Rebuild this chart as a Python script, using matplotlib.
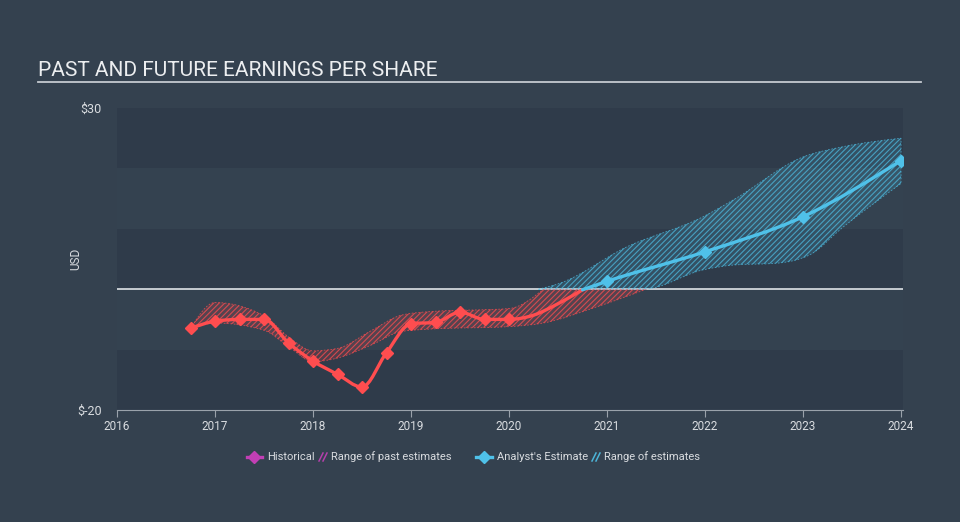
import numpy as np
import matplotlib
matplotlib.use("Agg")
import matplotlib.pyplot as plt
from matplotlib.path import Path
from matplotlib.patches import PathPatch
from matplotlib.lines import Line2D

# ---------------- data ----------------
hist_x = [2016.75, 2017.0, 2017.25, 2017.5, 2017.75, 2018.0, 2018.25, 2018.5,
          2018.75, 2019.0, 2019.25, 2019.5, 2019.75, 2020.0, 2020.25, 2020.5, 2020.75]
hist_eps = [-6.5, -5.3, -5.0, -5.0, -8.9, -11.9, -14.1, -16.2,
            -10.5, -5.7, -5.5, -3.8, -5.0, -5.0, -4.3, -2.4, -0.1]
hist_marked = 14  # markers on the first 14 points

past_up_x = [2016.75, 2017.0, 2017.5, 2017.75, 2018.0, 2018.25, 2018.6, 2018.9, 2019.2, 2020.0, 2020.35]
past_up_y = [-6.5, -2.2, -4.4, -7.9, -10.2, -9.8, -6.8, -4.3, -3.7, -3.2, 0.0]
past_lo_x = [2016.75, 2017.0, 2017.5, 2017.75, 2018.0, 2018.25, 2018.6, 2018.9, 2019.2, 2020.0, 2020.35, 2020.9, 2021.4]
past_lo_y = [-6.5, -5.6, -6.8, -9.5, -12.0, -11.4, -9.2, -7.0, -6.6, -6.2, -5.6, -2.9, 0.0]

est_x = [2020.75, 2021.0, 2022.0, 2023.0, 2024.0]
est_eps = [-0.1, 1.3, 6.2, 12.0, 21.3]

fut_up_x = [2020.3, 2020.52, 2021.2, 2021.98, 2022.29, 2023.0, 2023.41, 2024.0]
fut_up_y = [0.0, 1.0, 7.0, 12.0, 14.8, 21.9, 23.6, 25.0]
fut_lo_x = [2020.3, 2021.37, 2021.98, 2022.29, 2022.73, 2023.07, 2023.41, 2024.0]
fut_lo_y = [0.0, 0.0, 3.2, 4.0, 4.3, 5.7, 10.3, 17.5]

year_ticks = [2016, 2017, 2018, 2019, 2020, 2021, 2022, 2023, 2024]
y_ticks = [-20, 30]
y_ticklabels = ["$-20", "$30"]
band_edges = [-20, -10, 0, 10, 20, 30]

title = "PAST AND FUTURE EARNINGS PER SHARE"
legend_labels = ["Historical", "Range of past estimates", "Analyst's Estimate", "Range of estimates"]

# ---------------- style ----------------
BG = "#34414f"
BAND_DARK = "#2f3b4a"
BAND_LIGHT = "#344250"
RED = "#ff4d4f"
BLUE = "#4fc1e9"
PURPLE = "#c23fb5"
TXT = "#d9dce0"

plt.rcParams['font.family'] = ['Roboto', 'DejaVu Sans']
plt.rcParams['hatch.linewidth'] = 0.8


def monotone_verts(x, y):
    x = np.asarray(x, float)
    y = np.asarray(y, float)
    n = len(x)
    h = np.diff(x)
    s = np.diff(y) / h
    m = np.zeros(n)
    if n == 2:
        m[:] = s[0]
    else:
        for i in range(1, n - 1):
            if s[i - 1] * s[i] <= 0:
                m[i] = 0.0
            else:
                p = (s[i - 1] * h[i] + s[i] * h[i - 1]) / (h[i - 1] + h[i])
                m[i] = (np.sign(s[i - 1]) + np.sign(s[i])) * min(abs(s[i - 1]), abs(s[i]), 0.5 * abs(p))
        m[0] = (3 * s[0] - m[1]) / 2
        m[-1] = (3 * s[-1] - m[-2]) / 2
    verts = [(x[0], y[0])]
    for i in range(n - 1):
        d = h[i] / 3
        verts += [(x[i] + d, y[i] + m[i] * d), (x[i + 1] - d, y[i + 1] - m[i + 1] * d), (x[i + 1], y[i + 1])]
    return verts


def line_path(x, y):
    v = monotone_verts(x, y)
    codes = [Path.MOVETO] + [Path.CURVE4] * (len(v) - 1)
    return Path(v, codes)


def band_path(ux, uy, lx, ly):
    vu = monotone_verts(ux, uy)
    vl = monotone_verts(lx, ly)[::-1]
    verts = vu + vl + [vu[0]]
    codes = ([Path.MOVETO] + [Path.CURVE4] * (len(vu) - 1) +
             [Path.LINETO] + [Path.CURVE4] * (len(vl) - 1) + [Path.CLOSEPOLY])
    return Path(verts, codes)


fig = plt.figure(figsize=(9.6, 5.22), dpi=100, facecolor=BG)
ax = fig.add_axes([117 / 960, 1 - 410 / 522, (903 - 117) / 960, (410 - 108) / 522])
ax.set_facecolor('none')
ax.set_xlim(2016, 2024.02)
ax.set_ylim(-20, 30)

# alternating bands
for i in range(len(band_edges) - 1):
    c = BAND_DARK if i % 2 == 0 else BAND_LIGHT
    ax.axhspan(band_edges[i], band_edges[i + 1], color=c, lw=0, zorder=0)

ax.axhline(0, color="#dfe3e7", lw=1.2, zorder=1)

# ranges
past_patch = PathPatch(band_path(past_up_x, past_up_y, past_lo_x, past_lo_y),
                       facecolor=(1.0, 0.3, 0.3, 0.16), edgecolor=(1.0, 0.3, 0.31, 0.75),
                       hatch='//////', lw=0.6, ls=(0, (2, 2)), zorder=2)
ax.add_patch(past_patch)
fut_patch = PathPatch(band_path(fut_up_x, fut_up_y, fut_lo_x, fut_lo_y),
                      facecolor=(0.31, 0.76, 0.91, 0.16), edgecolor=(0.31, 0.76, 0.91, 0.7),
                      hatch='//////', lw=0.6, ls=(0, (2, 2)), zorder=2)
ax.add_patch(fut_patch)

# lines
ax.add_patch(PathPatch(line_path(hist_x, hist_eps), fill=False, edgecolor=RED, lw=2.4,
                       capstyle='round', joinstyle='round', zorder=3))
ax.plot(hist_x[:hist_marked], hist_eps[:hist_marked], ls='none', marker='D', ms=6,
        color=RED, zorder=4)
ax.add_patch(PathPatch(line_path(est_x, est_eps), fill=False, edgecolor=BLUE, lw=2.4,
                       capstyle='round', joinstyle='round', zorder=3))
ax.plot(est_x[1:], est_eps[1:], ls='none', marker='D', ms=6, color=BLUE, zorder=4)

# axes styling
for sp in ['top', 'right', 'left']:
    ax.spines[sp].set_visible(False)
ax.spines['bottom'].set_color("#9aa2ab")
ax.spines['bottom'].set_linewidth(0.8)
ax.set_xticks(year_ticks)
ax.set_xticklabels([str(y) for y in year_ticks])
ax.tick_params(axis='x', colors="#9aa2ab", labelcolor=TXT, length=5, width=0.8, labelsize=8.5, pad=2)
ax.set_yticks(y_ticks)
ax.set_yticklabels(y_ticklabels)
ax.tick_params(axis='y', length=0, labelcolor=TXT, labelsize=9, pad=11)
ax.set_ylabel("USD", color=TXT, fontsize=8.5)
ax.yaxis.set_label_coords((82 - 117) / 786, 0.5 + (289 - 260) / 302 * 0 + (349 - 260) / 302 - 0.295)

# title
fig.text(38 / 960, 1 - 76 / 522, title, color="#eceef0", fontsize=15, va='baseline', ha='left')
fig.add_artist(Line2D([38 / 960, 921 / 960], [1 - 82 / 522, 1 - 82 / 522], color="#c5cad0", lw=1.3))

# legend (manual)
ly = 1 - 457 / 522
def fx(px):
    return px / 960
def fy(py):
    return 1 - py / 522

def hatch_icon(x0, color):
    for dx in (0, 4):
        fig.add_artist(Line2D([fx(x0 + dx), fx(x0 + dx + 4)], [fy(461), fy(453)], color=color, lw=1.1))

fig.add_artist(Line2D([fx(247), fx(262)], [ly, ly], color=PURPLE, lw=2.4))
fig.add_artist(Line2D([fx(254.5)], [ly], color=PURPLE, marker='D', ms=6, ls='none'))
fig.text(fx(267), ly, legend_labels[0], color=TXT, fontsize=8, va='center', ha='left')
hatch_icon(319, (0.76, 0.25, 0.71, 0.9))
fig.text(fx(331), ly, legend_labels[1], color=TXT, fontsize=8, va='center', ha='left')
fig.add_artist(Line2D([fx(476), fx(492)], [ly, ly], color=BLUE, lw=2.4))
fig.add_artist(Line2D([fx(484)], [ly], color=BLUE, marker='D', ms=6, ls='none'))
fig.text(fx(497), ly, legend_labels[2], color=TXT, fontsize=8, va='center', ha='left')
hatch_icon(592, (0.31, 0.76, 0.91, 0.9))
fig.text(fx(604), ly, legend_labels[3], color=TXT, fontsize=8, va='center', ha='left')

fig.savefig("out.png", dpi=100, facecolor=BG)
